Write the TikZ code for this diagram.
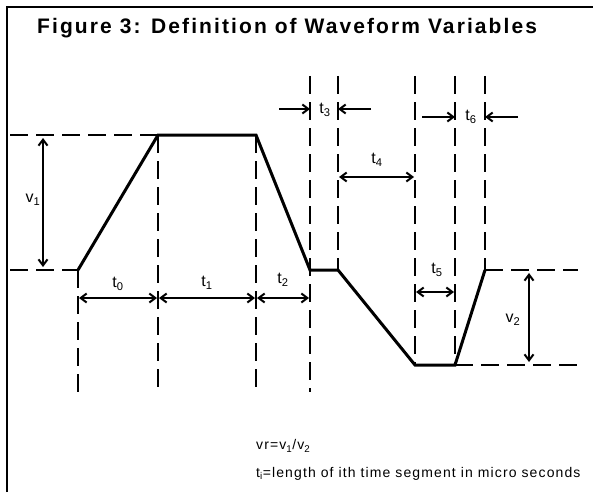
\documentclass[tikz,border=0pt]{standalone}
\usepackage{fontspec}
\setmainfont{Liberation Sans}
\usepackage{tikz}
\usetikzlibrary{arrows.meta,positioning}

\begin{document}
\begin{tikzpicture}[x=1pt, y=-1pt, every node/.style={font=\fontsize{16}{18}\selectfont, inner sep=0pt}]
  \tikzset{
    wave/.style={line width=3pt, line join=miter},
    guide/.style={line width=2.6pt, dash pattern=on 18pt off 8pt},
    dim/.style={line width=2pt, {Straight Barb[length=6pt,width=9pt]}-{Straight Barb[length=6pt,width=9pt]}, shorten <=1pt, shorten >=1pt},
    pointer/.style={line width=2pt, -{Straight Barb[length=6pt,width=9pt]}},
    note/.style={anchor=west, font=\fontsize{14}{16}\selectfont\addfontfeature{LetterSpace=8}}
  }
  \useasboundingbox (0,0) rectangle (593,492);

  % frame and title
  \draw[line width=2pt] (7,492) -- (7,7) -- (593,7);
  \node[anchor=west, font=\fontsize{21}{24}\selectfont\bfseries\addfontfeature{LetterSpace=10}] (title) at (37,28) {Figure 3: Definition of Waveform Variables};

  % waveform corners
  \coordinate (pA) at (78,270);
  \coordinate (pB) at (158,135);
  \coordinate (pC) at (256,135);
  \coordinate (pD) at (310,270);
  \coordinate (pE) at (338,270);
  \coordinate (pF) at (415,365);
  \coordinate (pG) at (455,365);
  \coordinate (pH) at (485,270);

  % guide lines
  \draw[guide] (10,135) -- (pB);
  \draw[guide] (10,270) -- (pA);
  \draw[guide] (pH) -- (578,270);
  \draw[guide] (pG) -- (578,365);
  \draw[guide] (pA) -- (78,392);
  \draw[guide] (pB) -- (158,392);
  \draw[guide] (pC) -- (256,392);
  \draw[guide] (310,76) -- (310,392);
  \foreach \p in {pE,pF,pG,pH}
    \draw[guide] (\p |- 0,76) -- (\p);

  \draw[wave] (pA) -- (pB) -- (pC) -- (pD) -- (pE) -- (pF) -- (pG) -- (pH);

  % amplitudes
  \draw[dim] (43,137) -- (43,268);
  \node (v1) at (33,200) {v\textsubscript{1}};
  \draw[dim] (529,272) -- (529,363);
  \node (v2) at (513,320) {v\textsubscript{2}};

  % time segments
  \draw[dim] (pA |- 0,298) -- (pB |- 0,298);
  \node (t0) at (118,284) {t\textsubscript{0}};
  \draw[dim] (pB |- 0,298) -- (pC |- 0,298);
  \node (t1) at (207,283) {t\textsubscript{1}};
  \draw[dim] (pC |- 0,298) -- (pD |- 0,298);
  \node (t2) at (283,280) {t\textsubscript{2}};
  \draw[dim] (pE |- 0,177) -- (pF |- 0,177);
  \node (t4) at (377,160) {t\textsubscript{4}};
  \draw[dim] (pF |- 0,292) -- (pG |- 0,292);
  \node (t5) at (437,270) {t\textsubscript{5}};

  \draw[pointer] (279,109) -- (pD |- 0,109);
  \draw[pointer] (371,109) -- (pE |- 0,109);
  \node (t3) at (325,110) {t\textsubscript{3}};
  \draw[pointer] (422,117) -- (pG |- 0,117);
  \draw[pointer] (518,117) -- (pH |- 0,117);
  \node (t6) at (471,117) {t\textsubscript{6}};

  % notes
  \node[note] (ratio) at (256,446) {vr=v\textsubscript{1}/v\textsubscript{2}};
  \node[note] (seg) at (256,474) {t\textsubscript{i}=length of ith time segment in micro seconds};
\end{tikzpicture}
\end{document}
